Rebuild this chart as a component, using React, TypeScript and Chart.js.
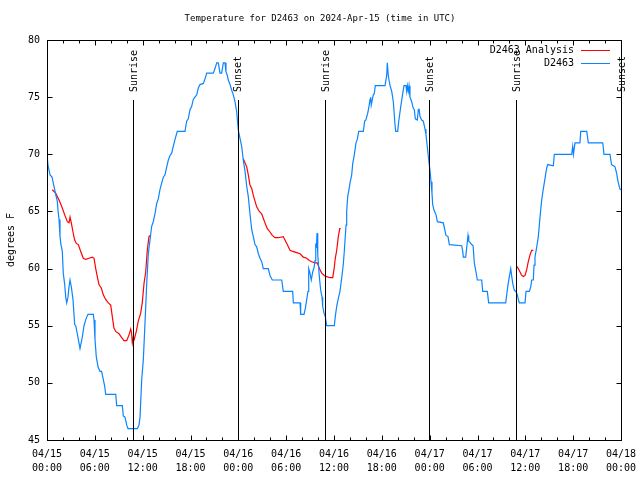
import { useEffect, useRef } from 'react';
import { Chart, registerables } from 'chart.js';

Chart.register(...registerables);

const TITLE = 'Temperature for D2463 on 2024-Apr-15 (time in UTC)';
const Y_LABEL = 'degrees F';
const SERIES_NAMES = ['D2463 Analysis', 'D2463'];
const SERIES_COLORS = ['#ff0000', '#0a84ff'];
const FONT = '"DejaVu Sans Mono", monospace';

// hours since 04/15 00:00 UTC
const X_TICK_LABELS: string[][] = [
  ['04/15', '00:00'], ['04/15', '06:00'], ['04/15', '12:00'], ['04/15', '18:00'],
  ['04/16', '00:00'], ['04/16', '06:00'], ['04/16', '12:00'], ['04/16', '18:00'],
  ['04/17', '00:00'], ['04/17', '06:00'], ['04/17', '12:00'], ['04/17', '18:00'],
  ['04/18', '00:00'],
];
const X_TICKS = [0, 2, 4, 6, 8, 10, 12, 14, 16, 18, 20, 22, 24, 26, 28, 30, 32, 34, 36, 38, 40, 42, 44, 46, 48, 50, 52, 54, 56, 58, 60, 62, 64, 66, 68, 70, 72];
const Y_TICKS = [45, 50, 55, 60, 65, 70, 75, 80];

const SUN_HOURS = [10.83, 23.92, 34.91, 47.95, 58.87, 72];
const SUN_NAMES = ['Sunrise', 'Sunset', 'Sunrise', 'Sunset', 'Sunrise', 'Sunset'];

const D2463: [number, number][] = [
  [0, 70], [0.13, 69], [0.38, 68.2], [0.63, 68], [0.88, 67.2], [1.09, 66.5], [1.29, 65.9], [1.38, 65.1], [1.51, 64.3], [1.63, 62.8], [1.75, 62.1], [1.92, 61.5], [2.04, 59.6], [2.22, 58.6], [2.35, 57.5], [2.47, 57], [2.63, 57.5], [2.76, 58.4], [2.89, 59], [3.05, 58.4], [3.26, 57.3], [3.47, 55.1], [3.6, 55], [3.8, 54.3], [4.01, 53.5], [4.14, 53], [4.43, 54], [4.64, 55], [4.89, 55.6], [5.14, 56], [5.81, 56], [5.9, 55.5], [6.02, 53.8], [6.18, 52.3], [6.4, 51.4], [6.65, 51], [6.85, 51], [7.06, 50.3], [7.24, 49.7], [7.36, 49], [8.62, 49], [8.74, 48], [9.45, 48], [9.57, 47.1], [9.78, 47], [10.0, 46.3], [10.16, 46], [11.33, 46], [11.54, 46.3], [11.67, 47], [11.88, 50.3], [12.08, 52], [12.29, 55.2], [12.51, 58.7], [12.71, 61.3], [12.92, 62.5], [13.13, 63.7], [13.33, 64.1], [13.55, 64.8], [13.76, 65.7], [13.96, 66.1], [14.17, 66.9], [14.39, 67.5], [14.59, 68], [14.8, 68.2], [15.02, 68.9], [15.22, 69.5], [15.43, 69.9], [15.64, 70.1], [15.84, 70.7], [16.06, 71.3], [16.34, 72], [17.31, 72], [17.52, 72.9], [17.72, 73.1], [17.94, 73.9], [18.15, 74.2], [18.35, 74.8], [18.56, 75], [18.78, 75.2], [18.98, 75.8], [19.19, 76.1], [19.61, 76.2], [19.82, 76.6], [20.03, 77.1], [20.86, 77.1], [21.07, 77.5], [21.29, 78], [21.49, 78], [21.7, 77.1], [21.91, 77.1], [22.12, 78], [22.33, 78], [22.45, 77.2], [22.62, 76.9], [22.74, 76.5], [22.96, 76.1], [23.17, 75.6], [23.37, 75.2], [23.58, 74.6], [23.8, 73.7], [23.87, 73.1], [24.0, 72.1], [24.21, 71.4], [24.42, 70.7], [24.62, 69.5], [24.84, 68.5], [25.05, 67.2], [25.25, 66.3], [25.46, 64.8], [25.68, 63.4], [25.88, 62.8], [26.09, 62.1], [26.3, 61.9], [26.51, 61.3], [26.72, 60.9], [26.93, 60.6], [27.13, 60], [27.76, 60], [27.97, 59.4], [28.26, 59], [29.44, 59], [29.64, 58], [30.82, 58], [30.9, 57], [31.74, 57], [31.82, 56], [32.24, 56], [32.4, 56.5], [32.58, 57.3], [32.74, 58], [32.83, 60], [32.99, 59.6], [33.15, 59], [33.33, 59.7], [33.5, 60.1], [33.62, 60.7], [33.71, 62.2], [33.8, 61.8], [33.87, 63.1], [33.96, 61.3], [34.03, 60.5], [34.16, 59.3], [34.33, 58.1], [34.5, 57.5], [34.58, 56.7], [34.75, 56.1], [34.91, 55.8], [35.08, 55], [36.04, 55], [36.16, 55.8], [36.34, 56.7], [36.54, 57.4], [36.75, 58], [36.97, 59.2], [37.17, 60.4], [37.29, 61.5], [37.51, 63.8], [37.59, 65], [37.72, 66.3], [37.88, 66.9], [38.01, 67.5], [38.22, 68.2], [38.35, 69.2], [38.51, 69.8], [38.64, 70.4], [38.76, 71], [38.92, 71.3], [39.1, 72], [39.68, 72], [39.85, 72.9], [40.0, 73], [40.23, 73.6], [40.39, 74.2], [40.52, 74.8], [40.6, 75], [40.67, 74.3], [40.93, 75.2], [41.05, 75.3], [41.18, 76], [42.4, 76], [42.61, 76.9], [42.69, 78], [42.81, 76.9], [42.9, 76.5], [43.03, 76], [43.24, 75.5], [43.44, 74.6], [43.65, 72.6], [43.74, 72], [43.99, 72], [44.12, 72.9], [44.28, 73.7], [44.44, 74.5], [44.62, 75.3], [44.78, 76], [45.03, 76], [45.12, 75.5], [45.2, 76], [45.32, 75.5], [45.41, 76], [45.53, 75], [45.75, 74.6], [45.95, 74], [46.08, 73.9], [46.2, 73.1], [46.45, 73], [46.58, 73.9], [46.66, 74], [46.79, 73.3], [47.0, 73], [47.2, 72.9], [47.42, 72.2], [47.54, 71.7], [47.7, 70.7], [47.88, 69.5], [48.04, 68.6], [48.17, 67.6], [48.29, 66.6], [48.38, 65.6], [48.55, 65.1], [48.8, 64.7], [48.96, 64.1], [49.71, 64], [49.89, 63.4], [50.05, 62.9], [50.3, 62.8], [50.47, 62.1], [52.02, 62], [52.15, 61.5], [52.22, 61], [52.52, 61], [52.64, 61.8], [52.81, 62.9], [52.9, 62.4], [53.06, 62.3], [53.27, 62.1], [53.45, 62], [53.6, 60.5], [53.81, 59.7], [53.98, 59], [54.53, 59], [54.65, 58], [55.23, 58], [55.4, 57], [57.54, 57], [57.66, 57.7], [57.83, 58.6], [57.99, 59.3], [58.17, 60], [58.3, 59.3], [58.42, 58.7], [58.62, 58.1], [58.83, 58], [58.99, 57.7], [59.24, 57], [59.96, 57], [60.09, 58], [60.5, 58], [60.68, 58.4], [60.8, 59], [61.0, 59], [61.09, 60.3], [61.21, 61], [61.43, 61.9], [61.63, 62.8], [61.84, 64.5], [62.05, 66], [62.26, 67], [62.47, 67.9], [62.68, 68.8], [62.81, 69.1], [63.51, 69], [63.64, 70], [65.82, 70], [65.94, 70.7], [66.04, 70], [66.23, 71], [66.85, 71], [66.95, 72], [67.7, 72], [67.9, 71], [69.71, 71], [69.87, 70], [70.62, 70], [70.81, 69.1], [71.25, 68.9], [71.46, 68.3], [71.63, 67.6], [71.85, 67.0], [72, 66.9],
];

const ANALYSIS_1: [number, number][] = [
  [0.66, 66.9], [1.09, 66.6], [1.51, 66], [1.92, 65.3], [2.22, 64.7], [2.55, 64.1], [2.76, 64], [2.89, 64.5], [3.05, 64], [3.26, 63.2], [3.47, 62.5], [3.68, 62.2], [3.93, 62.1], [4.23, 61.5], [4.55, 60.9], [4.85, 60.8], [5.27, 60.9], [5.68, 61], [5.9, 60.9], [6.11, 60], [6.31, 59.3], [6.52, 58.6], [6.81, 58.3], [7.06, 57.7], [7.36, 57.3], [7.69, 57], [7.99, 56.8], [8.19, 55.8], [8.4, 54.8], [8.62, 54.5], [9.03, 54.3], [9.32, 54], [9.66, 53.7], [10.0, 53.7], [10.29, 54.2], [10.5, 54.7], [10.6, 54.4], [10.7, 53.5], [10.83, 54], [10.95, 53.8], [11.2, 54.5], [11.45, 55.4], [11.75, 56.1], [11.95, 57], [12.17, 58.7], [12.38, 59.7], [12.58, 61.6], [12.79, 62.8], [12.92, 62.9],
];
const ANALYSIS_2: [number, number][] = [
  [24.62, 69.6], [25.05, 68.9], [25.25, 68.2], [25.46, 67.3], [25.68, 67], [25.88, 66.4], [26.09, 65.9], [26.3, 65.4], [26.63, 65], [26.93, 64.8], [27.13, 64.4], [27.34, 64], [27.63, 63.5], [27.97, 63.2], [28.26, 62.9], [28.6, 62.7], [29.01, 62.7], [29.64, 62.8], [29.85, 62.5], [30.14, 62.1], [30.48, 61.6], [30.82, 61.5], [31.32, 61.4], [31.74, 61.3], [32.15, 61], [32.58, 60.9], [32.9, 60.7], [33.2, 60.6], [33.62, 60.5], [33.91, 60.5], [34.16, 60], [34.46, 59.6], [34.78, 59.4], [35.08, 59.3], [35.5, 59.2], [35.84, 59.2], [36.0, 59.9], [36.16, 60.9], [36.34, 61.6], [36.54, 62.8], [36.72, 63.5], [36.84, 63.5],
];
const ANALYSIS_3: [number, number][] = [
  [58.92, 60.2], [59.12, 60], [59.33, 59.7], [59.55, 59.4], [59.75, 59.3], [59.96, 59.4], [60.17, 59.9], [60.37, 60.6], [60.59, 61.2], [60.8, 61.6], [61.0, 61.6],
];

const toPts = (a: [number, number][]) => a.map(([x, y]) => ({ x, y }));

const decorPlugin = {
  id: 'decor',
  afterDatasetsDraw(chart: any) {
    const { ctx, chartArea, scales } = chart;
    const { left, right, top, bottom } = chartArea;
    const xs = scales.x;
    const ys = scales.y;
    const L = Math.round(left) + 0.5;
    const R = Math.round(right) + 0.5;
    const T = Math.round(top) + 0.5;
    const B = Math.round(bottom) + 0.5;
    ctx.save();
    ctx.strokeStyle = '#000';
    ctx.lineWidth = 1;
    ctx.beginPath();
    X_TICKS.forEach((h) => {
      const px = Math.round(xs.getPixelForValue(h)) + 0.5;
      const len = h % 6 === 0 ? 5 : 3;
      ctx.moveTo(px, B); ctx.lineTo(px, B - len);
      ctx.moveTo(px, T); ctx.lineTo(px, T + len);
    });
    Y_TICKS.forEach((v) => {
      const py = Math.round(ys.getPixelForValue(v)) + 0.5;
      ctx.moveTo(L, py); ctx.lineTo(L + 5, py);
      ctx.moveTo(R, py); ctx.lineTo(R - 5, py);
    });
    ctx.stroke();
    ctx.strokeRect(L, T, R - L, B - T);

    // sunrise / sunset markers
    const lineTop = Math.round(bottom - 0.85 * (bottom - top));
    const textStart = bottom - 0.87 * (bottom - top);
    ctx.beginPath();
    SUN_HOURS.forEach((h) => {
      const px = Math.round(xs.getPixelForValue(h)) + 0.5;
      ctx.moveTo(px, B); ctx.lineTo(px, lineTop);
    });
    ctx.stroke();
    ctx.fillStyle = '#000';
    ctx.font = `10px ${FONT}`;
    SUN_HOURS.forEach((h, i) => {
      const px = xs.getPixelForValue(h);
      ctx.save();
      ctx.translate(px + 1, textStart);
      ctx.rotate(-Math.PI / 2);
      ctx.textAlign = 'left';
      ctx.textBaseline = 'middle';
      ctx.fillText(SUN_NAMES[i], 0, 0);
      ctx.restore();
    });

    // legend
    const legX = 574;
    const legY = [50, 63];
    SERIES_NAMES.forEach((name, i) => {
      ctx.textAlign = 'right';
      ctx.textBaseline = 'middle';
      ctx.fillStyle = '#000';
      ctx.fillText(name, legX, legY[i]);
      ctx.strokeStyle = SERIES_COLORS[i];
      ctx.beginPath();
      ctx.moveTo(581, legY[i] + 0.5);
      ctx.lineTo(610, legY[i] + 0.5);
      ctx.stroke();
    });

    // y label
    ctx.save();
    ctx.fillStyle = '#000';
    ctx.translate(11, (top + bottom) / 2);
    ctx.rotate(-Math.PI / 2);
    ctx.textAlign = 'center';
    ctx.textBaseline = 'middle';
    ctx.fillText(Y_LABEL, 0, 0);
    ctx.restore();

    // title
    ctx.fillStyle = '#000';
    ctx.font = `9px ${FONT}`;
    ctx.textAlign = 'center';
    ctx.textBaseline = 'middle';
    ctx.fillText(TITLE, 320, 19);
    ctx.restore();
  },
};

export default function App() {
  const ref = useRef<HTMLCanvasElement | null>(null);
  useEffect(() => {
    if (!ref.current) return;
    const redData: any[] = [
      ...toPts(ANALYSIS_1), { x: 18, y: null },
      ...toPts(ANALYSIS_2), { x: 48, y: null },
      ...toPts(ANALYSIS_3),
    ];
    const chart = new Chart(ref.current, {
      type: 'line',
      data: {
        datasets: [
          {
            label: SERIES_NAMES[1],
            data: toPts(D2463),
            borderColor: SERIES_COLORS[1],
            borderWidth: 1.2,
            pointRadius: 0,
            tension: 0,
          },
          {
            label: SERIES_NAMES[0],
            data: redData,
            borderColor: SERIES_COLORS[0],
            borderWidth: 1.2,
            pointRadius: 0,
            tension: 0,
            spanGaps: false,
          },
        ],
      },
      options: {
        responsive: false,
        animation: false,
        parsing: false as any,
        layout: { padding: { top: 40, right: 19, left: 0, bottom: 0 } },
        plugins: {
          legend: { display: false },
          tooltip: { enabled: false },
          title: { display: false },
        },
        scales: {
          x: {
            type: 'linear',
            min: 0,
            max: 72,
            grid: { display: false, drawTicks: false },
            border: { display: false },
            afterBuildTicks: (s: any) => {
              s.ticks = X_TICKS.map((v) => ({ value: v }));
            },
            afterFit: (s: any) => {
              s.height = 40;
              s.paddingLeft = 0;
              s.paddingRight = 0;
            },
            ticks: {
              autoSkip: false,
              maxRotation: 0,
              minRotation: 0,
              padding: 7,
              color: '#000',
              font: { family: FONT, size: 10, lineHeight: 1.4 },
              callback: (v: any) => (Number(v) % 6 === 0 ? X_TICK_LABELS[Number(v) / 6] : ''),
            },
          },
          y: {
            type: 'linear',
            min: 45,
            max: 80,
            grid: { display: false, drawTicks: false },
            border: { display: false },
            afterBuildTicks: (s: any) => {
              s.ticks = Y_TICKS.map((v) => ({ value: v }));
            },
            afterFit: (s: any) => {
              s.width = 47;
            },
            ticks: {
              padding: 7,
              color: '#000',
              font: { family: FONT, size: 10 },
            },
          },
        },
      },
      plugins: [decorPlugin],
    });
    return () => chart.destroy();
  }, []);
  return (
    <div style={{ position: 'absolute', left: 0, top: 0, width: 640, height: 480, background: '#fff' }}>
      <canvas ref={ref} width={640} height={480} style={{ display: 'block' }} />
    </div>
  );
}
